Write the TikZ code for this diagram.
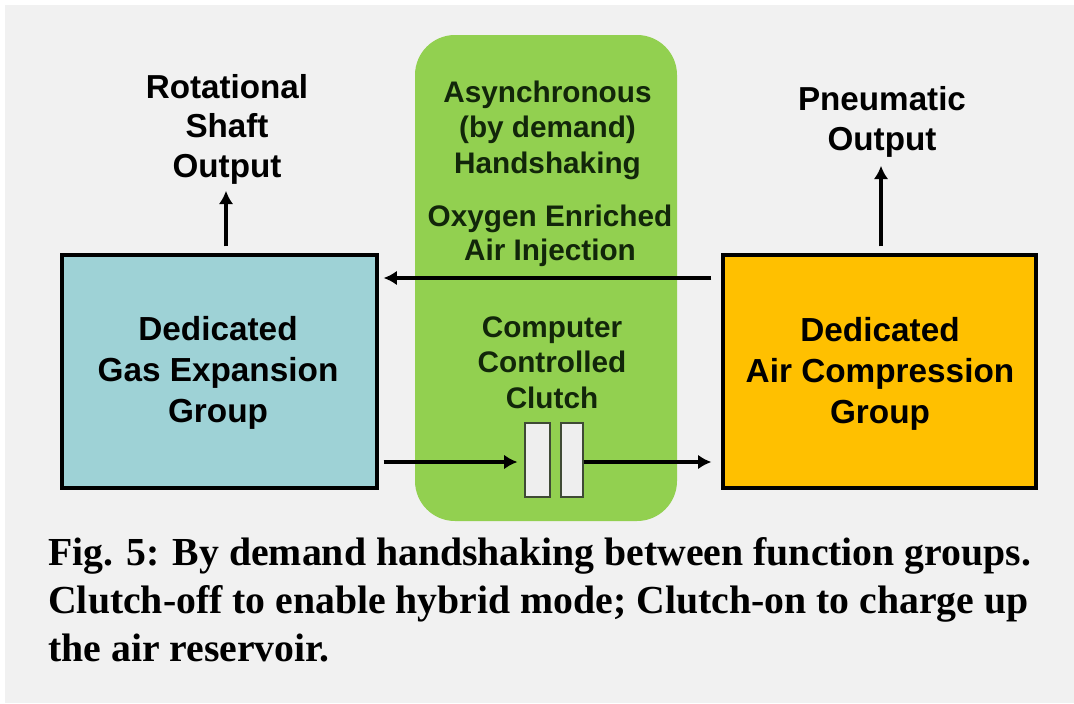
\documentclass[tikz,border=0pt]{standalone}
\usepackage{fontspec}
\setmainfont{Liberation Serif}
\setsansfont{Liberation Sans}
\usetikzlibrary{arrows.meta}
\definecolor{bggray}{HTML}{F1F1F1}
\definecolor{teal1}{HTML}{9ED2D6}
\definecolor{gold1}{HTML}{FFC000}
\definecolor{green1}{HTML}{92D050}
\definecolor{dgreen}{HTML}{12260A}
\definecolor{plate}{HTML}{EEEEEE}
\definecolor{plateedge}{HTML}{3F4A35}
\tikzset{
  arr/.style={line width=2.6pt,-{Latex[length=10pt,width=11pt]}},
  groupbox/.style={draw=black,line width=2.4pt,minimum height=174.75pt,inner sep=0pt},
  boxtext/.style={font=\sffamily\bfseries\fontsize{25pt}{30.75pt}\selectfont,align=center,inner sep=0pt,anchor=base},
  outtext/.style={font=\sffamily\bfseries\fontsize{24.9pt}{29.6pt}\selectfont,align=center,inner sep=0pt,anchor=base},
  gtext/.style={font=\sffamily\bfseries\fontsize{22.3pt}{26.6pt}\selectfont,text=dgreen,align=center,inner sep=0pt,anchor=base},
  clutchplate/.style={draw=plateedge,line width=0.8pt,fill=plate,minimum height=55.5pt,inner sep=0pt},
}
\begin{document}
\begin{tikzpicture}[x=0.75pt,y=-0.75pt]
\useasboundingbox (0,0) rectangle (1074,703);
\fill[white] (0,0) rectangle (1074,703);
\fill[bggray] (5,5) rectangle (1074,703);
% green panel
\node[fill=green1,rounded corners=30pt,minimum width=196.5pt,minimum height=364.5pt,inner sep=0pt] (G) at (546,278) {};
% group boxes
\node[groupbox,fill=teal1,minimum width=236.25pt] (L) at (219.5,371.5) {};
\node[groupbox,fill=gold1,minimum width=234.75pt] (R) at (879.5,371.5) {};
\node[boxtext] (Ltxt) at (218,422) {Dedicated\\Gas Expansion\\Group};
\node[boxtext] (Rtxt) at (880,423) {Dedicated\\Air Compression\\Group};
% outputs
\node[outtext] (RSO) at (227,177) {Rotational\\Shaft\\Output};
\node[outtext] (PO) at (882,150) {Pneumatic\\Output};
% green texts
\node[gtext] (G1) at (547.5,173) {Asynchronous\\(by demand)\\Handshaking};
\node[gtext,font=\sffamily\bfseries\fontsize{22.3pt}{25pt}\selectfont] (G2) at (550,260) {Oxygen Enriched\\Air Injection};
\node[gtext] (G3) at (552,408) {Computer\\Controlled\\Clutch};
% clutch plates
\node[clutchplate,minimum width=18.75pt] (P1) at (537.5,460) {};
\node[clutchplate,minimum width=16.5pt] (P2) at (572,460) {};
% arrows
\coordinate (u1) at ([shift={(6.5,-7)}]L.north);
\draw[arr] (u1) -- ([yshift=-5pt]u1 |- RSO.south);
\coordinate (u2) at ([shift={(1.5,-7)}]R.north);
\draw[arr] (u2) -- ([yshift=-6.5pt]u2 |- PO.south);
\coordinate (a2) at ([shift={(-10,-93.5)}]R.west);
\draw[arr] (a2) -- ([xshift=3.75pt]L.east |- a2);
\coordinate (a1) at ([shift={(5,90.5)}]L.east);
\draw[arr] (a1) -- ([xshift=-5.25pt]P1.west |- a1);
\draw[arr] (P2.east |- a1) -- ([xshift=-7.5pt]R.west |- a1);
% caption
\node[font=\rmfamily\bfseries\fontsize{29.8pt}{36pt}\selectfont,align=left,inner sep=0pt,anchor=base west] (cap) at (48,661)
  {Fig. 5: By demand handshaking between function groups.\\Clutch-off to enable hybrid mode; Clutch-on to charge up\\the air reservoir.};
\end{tikzpicture}
\end{document}
